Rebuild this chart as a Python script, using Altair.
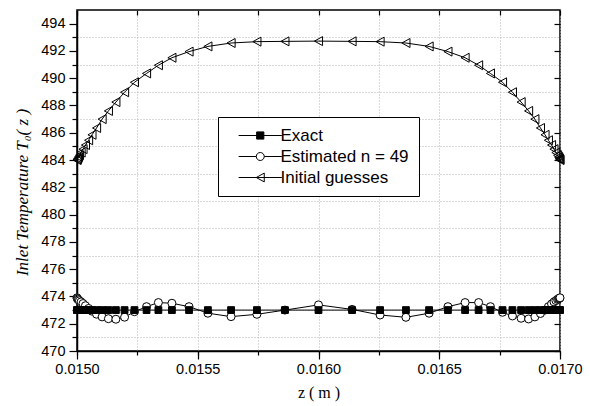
import altair as alt
import pandas as pd

# ---------------- data ----------------
Z = [0.015000, 0.015001, 0.015003, 0.015006, 0.015010, 0.015017, 0.015025,
     0.015035, 0.015048, 0.015062, 0.015081, 0.015104, 0.015130, 0.015161,
     0.015197, 0.015238, 0.015288, 0.015337, 0.015393, 0.015464, 0.015542,
     0.015638, 0.015745, 0.015861, 0.016000,
     0.016139, 0.016255, 0.016362, 0.016458, 0.016536, 0.016607, 0.016663,
     0.016712, 0.016762, 0.016803, 0.016839, 0.016870, 0.016896, 0.016919,
     0.016938, 0.016952, 0.016965, 0.016975, 0.016983, 0.016990, 0.016994,
     0.016997, 0.016999, 0.017000]

EXACT = [473.0, 473.0, 473.0, 473.0, 473.0, 473.0, 473.0, 473.0, 473.0, 473.0,
         473.0, 473.0, 473.0, 473.0, 473.0, 473.0, 473.0, 473.0, 473.0, 473.0,
         473.0, 473.0, 473.0, 473.0, 473.0, 473.0, 473.0, 473.0, 473.0, 473.0,
         473.0, 473.0, 473.0, 473.0, 473.0, 473.0, 473.0, 473.0, 473.0, 473.0,
         473.0, 473.0, 473.0, 473.0, 473.0, 473.0, 473.0, 473.0, 473.0]

ESTIMATED = [473.90, 473.85, 473.80, 473.75, 473.68, 473.60, 473.48, 473.32,
             473.12, 472.92, 472.70, 472.50, 472.37, 472.33, 472.48, 472.88,
             473.25, 473.55, 473.50, 473.25, 472.77, 472.52, 472.69, 473.00,
             473.38,
             473.05, 472.64, 472.47, 472.77, 473.25, 473.55, 473.55, 473.25,
             472.84, 472.57, 472.40, 472.35, 472.50, 472.75, 473.00, 473.25,
             473.45, 473.60, 473.70, 473.78, 473.83, 473.86, 473.88, 473.90]

INITIAL = [484.00, 484.05, 484.12, 484.22, 484.35, 484.55, 484.80, 485.10,
           485.45, 485.85, 486.35, 487.00, 487.60, 488.25, 488.97, 489.70,
           490.35, 490.95, 491.50, 491.95, 492.33, 492.58, 492.68, 492.70,
           492.72,
           492.70, 492.68, 492.58, 492.33, 491.95, 491.50, 490.95, 490.35,
           489.70, 488.97, 488.25, 487.60, 487.00, 486.35, 485.85, 485.45,
           485.10, 484.80, 484.55, 484.35, 484.22, 484.12, 484.05, 484.00]

SERIES = ["Exact", "Estimated n = 49", "Initial guesses"]

X_MAJOR = [0.0150, 0.0155, 0.0160, 0.0165, 0.0170]
X_MINOR = [0.0150, 0.01525, 0.0155, 0.01575, 0.0160, 0.01625, 0.0165,
           0.01675, 0.0170]
Y_MAJOR = [470, 472, 474, 476, 478, 480, 482, 484, 486, 488, 490, 492, 494]
Y_MINOR = [471, 473, 475, 477, 479, 481, 483, 485, 487, 489, 491, 493]

rows = []
for name, vals in [(SERIES[2], INITIAL), (SERIES[1], ESTIMATED), (SERIES[0], EXACT)]:
    for zz, v in zip(Z, vals):
        rows.append({"z": zz, "T": v, "Series": name})
df = pd.DataFrame(rows)

# ---------------- styling ----------------
SANS = "Liberation Sans"
SERIF = "Liberation Serif"

TRI_PATH = "M-0.9,0L0.9,-1L0.9,1Z"
SQ_PATH = "M-1,-1H1V1H-1Z"
LEG_PATHS = [
    "M-5.4,0H5.4M-0.9,-0.9H0.9V0.9H-0.9Z",
    "M-5.4,0H-1M1,0H5.4M-1,0A1,1,0,1,1,1,0A1,1,0,1,1,-1,0Z",
    "M-5.4,0H5.4M-1,0L1,-1.1L1,1.1Z",
]

xs = alt.Scale(domain=[0.015, 0.017], nice=False, zero=False)
ys = alt.Scale(domain=[470, 495], nice=False, zero=False)

x_main = alt.Axis(orient="bottom", values=X_MAJOR, format=".4f", tickSize=8,
                  tickWidth=1.2, tickColor="black", domainColor="black",
                  domainWidth=1.5, labelFont=SANS, labelFontSize=14.5,
                  labelColor="black", labelPadding=3, labelFlush=False,
                  grid=False, title="z ( m )", titleFont=SERIF,
                  titleFontSize=16, titleFontWeight="normal",
                  titleColor="black", titlePadding=9)
x_minor = alt.Axis(orient="bottom", values=X_MINOR, tickSize=4, tickWidth=1.2,
                   tickColor="black", domain=False, labels=False, grid=True,
                   gridDash=[1, 2], gridColor="#b4b4b4", gridWidth=1,
                   title=None)
x_top = alt.Axis(orient="top", values=X_MINOR, tickSize=5, offset=-5,
                 tickWidth=1.2, tickColor="black", domain=False, labels=False,
                 grid=False, title=None)

y_main = alt.Axis(orient="left", values=Y_MAJOR, tickSize=8, tickWidth=1.2,
                  tickColor="black", domainColor="black", domainWidth=1.5,
                  labelFont=SANS, labelFontSize=14.5, labelColor="black",
                  labelPadding=4, labelFlush=False, grid=False,
                  title="Inlet Temperature T\u2080( z )", titleFont=SERIF,
                  titleFontStyle="italic", titleFontSize=17,
                  titleFontWeight="normal", titleColor="black",
                  titleX=-46, titleY=182)
y_minor = alt.Axis(orient="left", values=Y_MINOR, tickSize=5, tickWidth=1.2,
                   tickColor="black", domain=False, labels=False, grid=True,
                   gridDash=[1, 2], gridColor="#b4b4b4", gridWidth=1,
                   title=None)
y_right = alt.Axis(orient="right", values=Y_MAJOR, tickSize=6, offset=-6,
                   tickWidth=1.2, tickColor="black", domain=False,
                   labels=False, grid=False, title=None)

base = alt.Chart(df)

lines = base.mark_line(color="black", strokeWidth=1).encode(
    x=alt.X("z:Q", scale=xs, axis=x_main),
    y=alt.Y("T:Q", scale=ys, axis=y_main),
    detail="Series:N",
)

pts_init = base.transform_filter(alt.datum.Series == SERIES[2]).mark_point(
    shape=TRI_PATH, size=81, fill="transparent", stroke="black",
    strokeWidth=1, opacity=1
).encode(
    x=alt.X("z:Q", scale=xs, axis=x_minor),
    y=alt.Y("T:Q", scale=ys, axis=y_minor),
)

pts_est = base.transform_filter(alt.datum.Series == SERIES[1]).mark_point(
    shape="circle", size=64, fill="white", stroke="black",
    strokeWidth=1, opacity=1
).encode(
    x=alt.X("z:Q", scale=xs, axis=x_top),
    y=alt.Y("T:Q", scale=ys, axis=y_right),
)

pts_exact = base.transform_filter(alt.datum.Series == SERIES[0]).mark_point(
    shape=SQ_PATH, size=46, fill="black", stroke="black",
    strokeWidth=1, opacity=1
).encode(
    x=alt.X("z:Q", scale=xs, axis=None),
    y=alt.Y("T:Q", scale=ys, axis=None),
)

legend = alt.Legend(title=None, orient="none", legendX=141, legendY=107,
                    padding=10, strokeColor="black",
                    fillColor="white", labelFont=SANS, labelFontSize=17,
                    labelColor="black", symbolSize=64, symbolStrokeWidth=1,
                    symbolStrokeColor="black", symbolOpacity=1,
                    symbolOffset=23.75, labelOffset=11.75, rowPadding=3,
                    labelLimit=300,
                    labelExpr="datum.label + '\u00a0\u00a0\u00a0'")

leg = base.mark_point(strokeWidth=1, opacity=0).encode(
    x=alt.X("z:Q", scale=xs, axis=None),
    y=alt.Y("T:Q", scale=ys, axis=None),
    shape=alt.Shape("Series:N", scale=alt.Scale(domain=SERIES, range=LEG_PATHS),
                    legend=legend),
    fill=alt.Fill("Series:N",
                  scale=alt.Scale(domain=SERIES,
                                  range=["black", "white", "transparent"]),
                  legend=legend),
    stroke=alt.Stroke("Series:N",
                      scale=alt.Scale(domain=SERIES,
                                      range=["black", "black", "black"]),
                      legend=legend),
)

chart = alt.layer(lines, pts_init, pts_est, pts_exact, leg).resolve_axis(
    x="independent", y="independent"
).properties(
    width=483, height=341,
    autosize=alt.AutoSizeParams(type="none"),
    padding={"left": 77, "top": 10, "right": 30, "bottom": 55},
    background="white",
).configure_view(stroke="black", strokeWidth=1.5)

chart.save("out.html", embed_options={"renderer": "svg", "actions": False})
